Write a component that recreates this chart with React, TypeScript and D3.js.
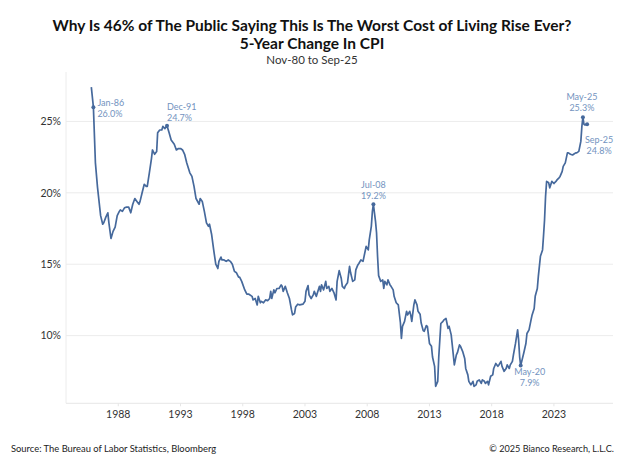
import React from "react";
import * as d3 from "d3";

const months: string[] = [
  "1985-11","1986-01","1986-03","1986-05","1986-08","1986-10","1986-11","1987-01","1987-03","1987-04","1987-06","1987-08","1987-10","1987-12",
  "1988-02","1988-03","1988-05","1988-07","1988-09","1988-11","1989-01","1989-03","1989-05","1989-07","1989-09","1989-10","1989-12",
  "1990-02","1990-04","1990-05","1990-07","1990-09","1990-10","1990-12","1991-02","1991-03","1991-05","1991-07","1991-08","1991-10","1991-12",
  "1992-02","1992-04","1992-07","1992-09","1992-11","1993-01","1993-03","1993-05","1993-07","1993-10","1993-12",
  "1994-02","1994-04","1994-07","1994-08","1994-10","1994-12","1995-02","1995-04","1995-05","1995-07","1995-09","1995-11",
  "1996-01","1996-02","1996-04","1996-05","1996-07","1996-09","1996-11","1997-01","1997-03","1997-05","1997-07","1997-09","1997-10","1997-12",
  "1998-03","1998-05","1998-07","1998-10","1998-11","1999-01","1999-03","1999-04","1999-06","1999-07","1999-09","1999-11",
  "2000-01","2000-03","2000-04","2000-05","2000-07","2000-08","2000-10","2000-12","2001-02","2001-03","2001-04","2001-06","2001-08","2001-10","2001-12",
  "2002-01","2002-03","2002-04","2002-06","2002-08","2002-11","2003-01","2003-02","2003-04","2003-05","2003-07","2003-09","2003-10","2003-12",
  "2004-01","2004-03","2004-04","2004-05","2004-07","2004-09","2004-10","2004-12","2005-01","2005-03","2005-05","2005-07","2005-08","2005-10","2005-12",
  "2006-01","2006-03","2006-04","2006-06","2006-08","2006-09","2006-11","2007-01","2007-02","2007-04","2007-05","2007-07","2007-09","2007-10","2007-12",
  "2008-02","2008-03","2008-05","2008-06","2008-07","2008-08","2008-09","2008-10","2008-11","2008-12","2009-02","2009-04","2009-05","2009-06","2009-08","2009-09","2009-11","2009-12",
  "2010-02","2010-03","2010-05","2010-07","2010-09","2010-10","2010-11","2011-01","2011-03","2011-04","2011-06","2011-07","2011-08","2011-10","2011-11",
  "2012-01","2012-02","2012-04","2012-05","2012-07","2012-08","2012-10","2012-11","2013-01","2013-03","2013-04","2013-06","2013-07","2013-09","2013-10","2013-12",
  "2014-02","2014-03","2014-05","2014-07","2014-08","2014-10","2014-11","2015-01","2015-03","2015-04","2015-06","2015-07","2015-09","2015-11","2015-12",
  "2016-02","2016-03","2016-05","2016-07","2016-08","2016-10","2016-11","2017-01","2017-03","2017-04","2017-06","2017-07","2017-09","2017-10","2017-12",
  "2018-02","2018-03","2018-05","2018-07","2018-08","2018-10","2018-11","2019-01","2019-03","2019-04","2019-06","2019-07","2019-09","2019-10","2019-12",
  "2020-02","2020-03","2020-04","2020-05","2020-08","2020-10","2020-11","2021-01","2021-03","2021-04","2021-06","2021-07","2021-09","2021-10","2021-12",
  "2022-02","2022-03","2022-04","2022-05","2022-06","2022-08","2022-09","2022-11","2023-01","2023-03","2023-04","2023-06","2023-07","2023-09","2023-10","2023-12",
  "2024-02","2024-03","2024-05","2024-07","2024-08","2024-10","2024-11","2025-01","2025-03","2025-04","2025-05","2025-06","2025-07","2025-08","2025-09"
];

const values: number[] = [
  27.4,26.0,22.1,20.4,18.4,17.8,17.9,18.3,18.6,17.9,16.8,17.3,17.6,18.4,
  18.7,18.8,18.7,18.95,19.0,19.0,18.6,19.2,19.6,19.4,19.2,19.4,20.0,
  20.6,20.45,20.45,21.4,22.4,23.0,22.7,22.9,24.2,24.4,24.4,24.65,24.5,24.7,
  24.2,23.7,23.4,23.0,23.1,23.1,23.0,22.7,22.1,21.4,21.15,
  20.45,19.6,19.2,19.6,19.4,18.7,17.9,17.65,17.8,17.1,16.0,15.0,
  14.7,15.2,15.5,15.3,15.3,15.2,15.3,15.2,15.0,14.5,14.4,14.1,14.1,13.8,
  13.2,12.9,12.9,12.75,12.5,12.6,12.15,12.75,12.3,12.4,12.3,12.5,
  12.45,12.6,13.1,12.6,13.2,13.0,13.3,13.3,13.55,13.45,13.1,13.45,13.0,12.6,11.8,
  11.45,11.55,12.0,12.2,12.15,12.2,12.4,13.1,13.5,12.85,12.6,12.85,13.1,12.75,
  13.0,13.45,13.1,13.55,13.2,13.8,13.3,13.45,13.1,13.3,13.0,12.5,13.8,14.55,14.0,
  13.45,13.3,13.5,13.7,14.85,14.4,13.8,13.9,14.6,14.95,15.05,15.3,15.2,15.55,16.25,
  16.0,16.7,17.65,18.7,19.2,18.6,18.0,17.2,15.5,14.2,13.8,13.9,13.3,13.8,13.55,13.9,13.55,13.45,
  13.2,12.75,12.3,12.15,10.9,9.8,10.65,11.0,11.7,11.45,11.7,11.45,11.0,12.15,12.5,
  12.15,11.7,11.5,10.9,10.35,10.3,10.7,10.64,9.45,9.25,8.5,7.85,6.45,6.8,8.5,10.85,
  11.0,11.1,11.2,10.5,10.65,10.05,9.35,7.95,8.65,8.8,9.35,9.25,8.9,8.4,7.7,
  7.25,6.8,6.55,6.8,6.45,6.55,6.8,6.9,6.65,6.9,6.8,6.65,6.8,6.55,7.15,
  7.25,7.7,8.05,7.85,7.95,8.2,7.85,7.5,7.7,7.95,7.7,7.95,8.2,8.65,9.45,
  10.4,9.7,8.5,7.9,8.8,9.45,10.15,10.4,11.1,11.45,11.9,12.75,13.3,14.15,15.55,
  16.0,16.95,18.1,19.75,20.8,20.7,20.35,20.8,20.65,20.8,20.9,21.05,21.15,21.5,21.85,22.1,
  22.8,22.8,22.7,22.65,22.7,22.8,22.8,22.9,23.6,24.65,25.3,24.8,24.75,24.8,24.8
];

const yTicks: number[] = [10, 15, 20, 25];
const xTickYears: number[] = [1988, 1993, 1998, 2003, 2008, 2013, 2018, 2023];

const annoMonths: string[] = ["1986-01", "1991-12", "2008-07", "2020-05", "2025-05", "2025-09"];
const annoLabels: string[] = ["Jan-86", "Dec-91", "Jul-08", "May-20", "May-25", "Sep-25"];
const annoValues: number[] = [26.0, 24.7, 19.2, 7.9, 25.3, 24.8];

const title1 = "Why Is 46% of The Public Saying This Is The Worst Cost of Living Rise Ever?";
const title2 = "5-Year Change In CPI";
const subtitle = "Nov-80 to Sep-25";
const source = "Source: The Bureau of Labor Statistics, Bloomberg";
const copyright = "\u00A9 2025 Bianco Research, L.L.C.";

const W = 624;
const H = 468;
const left = 66;
const right = 613;
const top = 72;
const bottom = 403.3;

const parse = (s: string) => {
  const [y, m] = s.split("-").map(Number);
  return new Date(y, m - 1, 1);
};

// placement of each annotation relative to its point: [anchor, dx, dy of first line]
const annoPlace: [string, number, number][] = [
  ["start", 4, -1],
  ["start", 0, -15.5],
  ["middle", 0, -16],
  ["middle", 9, 9.5],
  ["middle", -1, -17],
  ["middle", 12, 18.5],
];

export default function App() {
  const x = d3
    .scaleTime()
    .domain([new Date(1983, 9, 20), new Date(2027, 9, 1)])
    .range([left, right]);
  const y = d3.scaleLinear().domain([5.26, 28.46]).range([bottom, top]);

  const pts = months.map((m, i) => ({ d: parse(m), v: values[i] }));
  const line = d3
    .line<{ d: Date; v: number }>()
    .x((p) => x(p.d))
    .y((p) => y(p.v));

  const font = "Lato, 'Noto Sans', sans-serif";
  const lineColor = "#46699c";
  const annoColor = "#7393c0";

  return (
    <div style={{ position: "fixed", left: 0, top: 0 }}>
      <svg width={W} height={H} viewBox={`0 0 ${W} ${H}`} style={{ display: "block", background: "#fff" }} fontFamily={font}>
        <rect x={0} y={0} width={W} height={H} fill="#fff" />
        <text x={W / 2} y={30.5} textAnchor="middle" fontSize={15.5} fontWeight={700} fill="#111">
          {title1}
        </text>
        <text x={W / 2} y={48.5} textAnchor="middle" fontSize={15.5} fontWeight={700} fill="#111">
          {title2}
        </text>
        <text x={W / 2} y={64} textAnchor="middle" fontSize={11.5} fill="#333">
          {subtitle}
        </text>

        {/* grid */}
        {yTicks.map((t) => (
          <g key={t}>
            <line x1={left} x2={right} y1={y(t)} y2={y(t)} stroke="#ececec" strokeWidth={1} />
            <text x={61} y={y(t) + 3.8} textAnchor="end" fontSize={10.5} fill="#333">
              {t}%
            </text>
          </g>
        ))}
        <line x1={left} x2={left} y1={top} y2={bottom} stroke="#ececec" strokeWidth={1} />
        <line x1={left} x2={right} y1={bottom} y2={bottom} stroke="#e6e6e6" strokeWidth={1} />
        {xTickYears.map((yr) => {
          const xx = x(new Date(yr, 0, 1));
          return (
            <g key={yr}>
              <line x1={xx} x2={xx} y1={bottom} y2={bottom + 3} stroke="#e6e6e6" />
              <text x={xx} y={417.5} textAnchor="middle" fontSize={10.5} fill="#333">
                {yr}
              </text>
            </g>
          );
        })}

        <path d={line(pts) || ""} fill="none" stroke={lineColor} strokeWidth={1.7} strokeLinejoin="round" />

        {annoMonths.map((m, i) => {
          const px = x(parse(m));
          const py = y(annoValues[i]);
          const [anchor, dx, dy] = annoPlace[i];
          return (
            <g key={m}>
              <circle cx={px} cy={py} r={2} fill={lineColor} />
              <text x={px + dx} y={py + dy} textAnchor={anchor as any} fontSize={9} fill={annoColor}>
                {annoLabels[i]}
              </text>
              <text x={px + dx} y={py + dy + 11} textAnchor={anchor as any} fontSize={9} fill={annoColor}>
                {annoValues[i].toFixed(1)}%
              </text>
            </g>
          );
        })}

        <text x={11} y={452} fontSize={9.4} fill="#222">
          {source}
        </text>
        <text x={614} y={452} textAnchor="end" fontSize={9.1} fill="#222">
          {copyright}
        </text>
      </svg>
    </div>
  );
}
